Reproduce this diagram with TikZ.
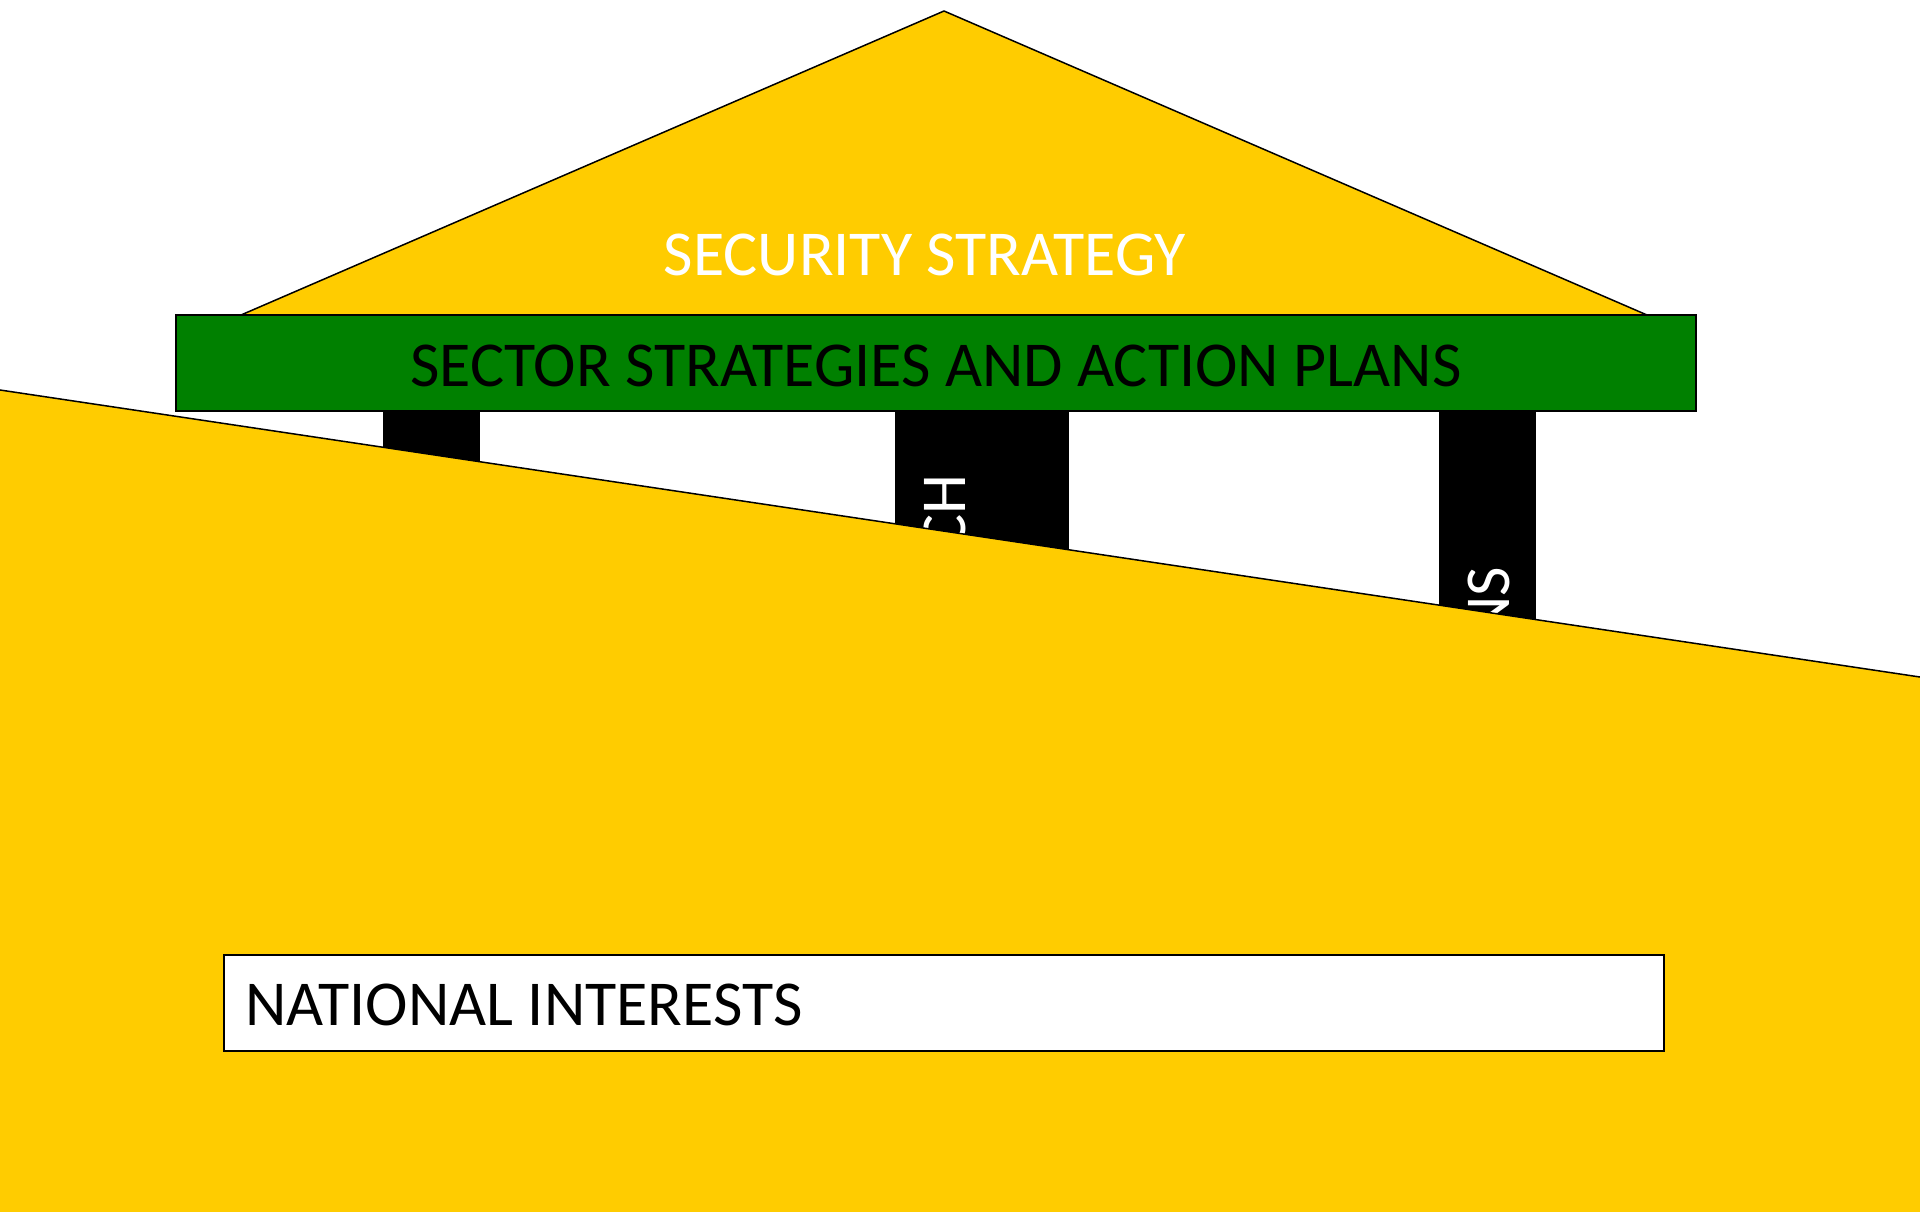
\documentclass[tikz,border=0pt]{standalone}
\usepackage{fontspec}
\setmainfont{Carlito}
\definecolor{roofyellow}{RGB}{255,204,0}
\definecolor{beamgreen}{RGB}{0,128,0}
\tikzset{
  outl/.style={draw=black, line width=1.5pt},
  bigtext/.style={inner sep=0pt, font=\fontsize{64}{76}\selectfont},
  pillar/.style={fill=black, draw=none}
}
\begin{document}
\begin{tikzpicture}[x=1pt,y=-1pt]
\useasboundingbox (0,0) rectangle (1920,1211);
\fill[white] (0,0) rectangle (1920,1211);
% roof
\draw[outl, fill=roofyellow] (241,315) -- (944,11) -- (1647,315);
\node[bigtext, text=white, anchor=base] (sec) at (925,275) {SECURITY STRATEGY};
% pillars
\fill[pillar] (383,410) rectangle (480,700);
\fill[pillar] (895,410) rectangle (1069,700);
\fill[pillar] (1439,410) rectangle (1536,700);
\node[bigtext, text=white, rotate=90, anchor=base east] (pm) at (965,474) {CH};
\node[bigtext, text=white, rotate=90, anchor=base east] (pr) at (1509,567) {NS};
% beam
\draw[outl, fill=beamgreen] (176,315) rectangle (1696,411);
\node[bigtext, text=black, anchor=base] (beam) at (936,386) {SECTOR STRATEGIES AND ACTION PLANS};
% ground
\draw[outl, fill=roofyellow] (-20,387) -- (1940,680) -- (1940,1240) -- (-20,1240) -- cycle;
% national interests box
\draw[outl, fill=white] (224,955) rectangle (1664,1051);
\node[bigtext, text=black, anchor=base west] (nat) at (245,1025) {NATIONAL INTERESTS};
\end{tikzpicture}
\end{document}
